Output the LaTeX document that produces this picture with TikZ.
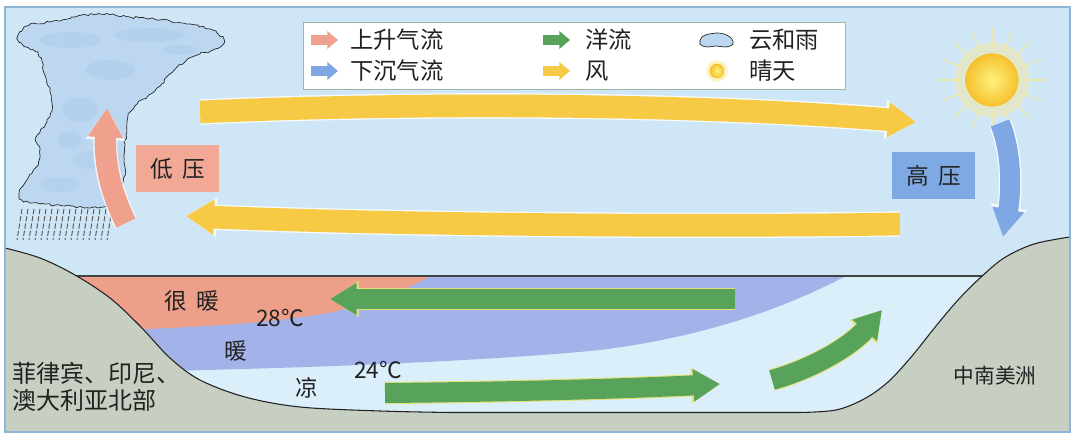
\documentclass[tikz,border=0pt]{standalone}
\usepackage{fontspec}
\setmainfont{Noto Sans CJK SC}
\usetikzlibrary{arrows.meta,decorations.pathmorphing}

\definecolor{skyblue}{HTML}{CFE6F6}
\definecolor{seablue}{HTML}{DAEFFA}
\definecolor{landgrey}{HTML}{C7CFC2}
\definecolor{hotred}{HTML}{EE9F89}
\definecolor{warmblue}{HTML}{A3B3EA}
\definecolor{windyellow}{HTML}{F6CA45}
\definecolor{risepink}{HTML}{F0A18D}
\definecolor{sinkblue}{HTML}{7FA7E4}
\definecolor{currentgreen}{HTML}{58A35C}
\definecolor{rimyellow}{HTML}{E6E27A}
\definecolor{lowbox}{HTML}{F1A895}
\definecolor{highbox}{HTML}{7FA9E3}
\definecolor{cloudblue}{HTML}{BCD7EF}
\definecolor{cloudshade}{HTML}{8FB8E2}
\definecolor{framecol}{HTML}{8DB6D6}
\definecolor{legendrim}{HTML}{9DB4A6}
\definecolor{inkcol}{HTML}{222222}
\definecolor{sunin}{HTML}{FFF27E}
\definecolor{sunout}{HTML}{F5C02C}
\definecolor{sunglow}{HTML}{FBEA9A}

\tikzset{
  label/.style={text=inkcol, inner sep=0pt, font=\fontsize{17pt}{20pt}\selectfont},
  legendtext/.style={text=inkcol, inner sep=0pt, anchor=west, font=\fontsize{17.5pt}{20pt}\selectfont},
  windarrow/.style={draw=windyellow, line width=17pt, -{Triangle[width=25pt,length=21pt]},
    preaction={draw=white, opacity=0.8, line width=19pt, -{Triangle[width=28pt,length=23pt]}}},
  risearrow/.style={draw=risepink, line width=16pt, -{Triangle[width=25pt,length=22pt]},
    preaction={draw=white, opacity=0.8, line width=18pt, -{Triangle[width=28pt,length=24pt]}}},
  sinkarrow/.style={draw=sinkblue, line width=15pt, -{Triangle[width=23pt,length=21pt]},
    preaction={draw=white, opacity=0.8, line width=17pt, -{Triangle[width=26pt,length=23pt]}}},
  current/.style={draw=currentgreen, line width=15pt, -{Triangle[width=23pt,length=20pt]},
    preaction={draw=rimyellow, line width=16.6pt, -{Triangle[width=25.5pt,length=21.5pt]}}},
  keyarrow/.style={line width=7.5pt, -{Triangle[width=13pt,length=8pt]}},
  pressurebox/.style={minimum width=62pt, minimum height=35pt, inner sep=0pt,
    text=inkcol, font=\fontsize{17pt}{20pt}\selectfont},
}

\begin{document}
\begin{tikzpicture}[x=0.75pt,y=-0.75pt]
\useasboundingbox (0,0) rectangle (1077,441);
\fill[white] (0,0) rectangle (1077,441);

% sky and sea
\fill[skyblue] (5,7) rectangle (1070,432);
\fill[seablue] (5,276) rectangle (1070,432);

% warm layer and very warm layer
\fill[warmblue] (40,276) -- (846,276) .. controls (800,300) and (720,335) .. (600,350)
  .. controls (500,360) and (300,370) .. (40,373) -- cycle;
\fill[hotred] (40,276) -- (430,276) .. controls (402,292) and (370,303) .. (333,312)
  .. controls (280,322) and (200,329) .. (40,332) -- cycle;

% sea surface
\draw[inkcol!85, line width=0.9pt] (60,276) -- (990,276);

% land on both sides and the sea floor
\fill[landgrey]
  plot[smooth, tension=0.55] coordinates {(5,248) (40,258) (75,275) (110,298) (140,326)
    (170,358) (200,380) (245,397) (300,407) (380,411) (450,412.5)}
  -- (800,412.5)
  -- plot[smooth, tension=0.55] coordinates {(800,412.5) (836,410) (864,399) (888,382)
    (912,356) (936,326) (958,300) (980,278) (1004,258) (1034,244) (1070,237)}
  -- (1070,432) -- (5,432) -- cycle;
\draw[inkcol, line width=0.8pt]
  plot[smooth, tension=0.55] coordinates {(5,248) (40,258) (75,275) (110,298) (140,326)
    (170,358) (200,380) (245,397) (300,407) (380,411) (450,412.5)}
  -- (800,412.5)
  -- plot[smooth, tension=0.55] coordinates {(800,412.5) (836,410) (864,399) (888,382)
    (912,356) (936,326) (958,300) (980,278) (1004,258) (1034,244) (1070,237)};

% ocean currents
\coordinate (cA) at (735,299);
\coordinate (cB) at (330,299);
\coordinate (cC) at (385,393);
\coordinate (cD) at (720,384);
\coordinate (cE) at (772,380);
\coordinate (cF) at (882,310);
\draw[current] (cA) -- (cB);
\draw[current] (cC) .. controls (500,392) and (620,389) .. (cD);
\draw[current] (cE) .. controls (815,368) and (852,345) .. (cF);

% storm cloud with rain
\draw[fill=cloudblue, draw=inkcol, line width=0.5pt, decorate,
      decoration={random steps, segment length=2.5pt, amplitude=0.9pt}]
  plot[smooth cycle, tension=0.6] coordinates {(18,36) (28,26) (50,22) (75,17) (100,14)
    (130,17) (160,20) (190,24) (212,30) (224,40) (218,48) (200,54) (185,62) (170,74)
    (160,86) (148,96) (135,106) (128,118) (126,135) (124,155) (125,175) (118,190)
    (110,204) (90,208) (65,206) (40,204) (22,200) (20,190) (28,178) (38,165) (40,150)
    (36,138) (45,125) (52,110) (50,92) (45,75) (42,62) (36,52) (24,46)};
\foreach \cx/\cy/\rx/\ry in {70/40/30/8, 150/35/35/7, 110/70/25/10, 80/110/18/12,
    95/160/22/9, 60/185/20/7, 180/50/18/5, 70/140/12/8}
  \fill[cloudshade, opacity=0.2] (\cx,\cy) ellipse ({\rx*0.75pt} and {\ry*0.75pt});
\foreach \x in {22,28,...,112}
  \draw[inkcol!75, line width=0.7pt, dash pattern=on 4pt off 1.5pt] (\x,209) -- ({\x-5},240);

% sun
\fill[sunglow, opacity=0.45] (992,80) circle (28pt);
\foreach \a in {0,22.5,...,337.5}
  \draw[shift={(992,80)}, sunglow, opacity=0.8, line width=0.9pt] (\a:25pt) -- (\a:40pt);
\shade[inner color=sunin, outer color=sunout] (992,80) circle (20pt);

% winds
\coordinate (w1) at (200,112);
\coordinate (w2) at (916,122);
\coordinate (w3) at (900,224);
\coordinate (w4) at (186,216);
\draw[windarrow] (w1) .. controls (420,102) and (700,104) .. (w2);
\draw[windarrow] (w3) .. controls (700,227) and (400,225) .. (w4);

% rising and sinking air
\coordinate (r1) at (126,223);
\coordinate (r2) at (107,108);
\coordinate (s1) at (1000,123);
\coordinate (s2) at (1003,237);
\draw[risearrow] (r1) .. controls (112,195) and (104,165) .. (r2);
\draw[sinkarrow] (s1) .. controls (1013,155) and (1011,195) .. (s2);

% pressure labels
\node[pressurebox, fill=lowbox] (low) at (177.5,168.5) {低\hspace{0.4em}压};
\node[pressurebox, fill=highbox] (high) at (933.5,175.5) {高\hspace{0.4em}压};

% water temperature labels
\node[label] (vwarm) at (192,301) {很\hspace{0.4em}暖};
\node[label] (t28) at (280,318) {28℃};
\node[label] (warm) at (236,351) {暖};
\node[label] (t24) at (378,370) {24℃};
\node[label] (cool) at (307,388) {凉};

% region names
\node[label, anchor=west, font=\fontsize{18pt}{20pt}\selectfont] (west1) at (12,373) {菲律宾、印尼、};
\node[label, anchor=west, font=\fontsize{18pt}{20pt}\selectfont] (west2) at (12,400) {澳大利亚北部};
\node[label, font=\fontsize{15.5pt}{18pt}\selectfont] (east) at (995,376) {中南美洲};

% key
\draw[legendrim, fill=white, line width=0.6pt] (303,22) rectangle (845,89);
\draw[keyarrow, risepink] (311,40) -- (338,40);
\draw[keyarrow, sinkblue] (311,71) -- (338,71);
\draw[keyarrow, currentgreen] (543,40) -- (570,40);
\draw[keyarrow, windyellow] (543,71) -- (570,71);
\node[legendtext] (k1) at (350,40) {上升气流};
\node[legendtext] (k2) at (350,71) {下沉气流};
\node[legendtext] (k3) at (585,40) {洋流};
\node[legendtext] (k4) at (585,71) {风};
\node[legendtext] (k5) at (749,40) {云和雨};
\node[legendtext] (k6) at (749,71) {晴天};
\draw[fill=cloudblue, draw=inkcol, line width=0.5pt]
  plot[smooth cycle, tension=0.7] coordinates {(700,44) (702,37) (709,34) (716,33)
    (724,34) (731,38) (733,44) (726,47) (716,46) (707,47)};
\fill[sunglow, opacity=0.6] (717,71) circle (8pt);
\shade[inner color=sunin, outer color=sunout] (717,71) circle (5.5pt);

% frame
\draw[framecol, line width=0.8pt] (5,7) rectangle (1070,432);
\end{tikzpicture}
\end{document}
